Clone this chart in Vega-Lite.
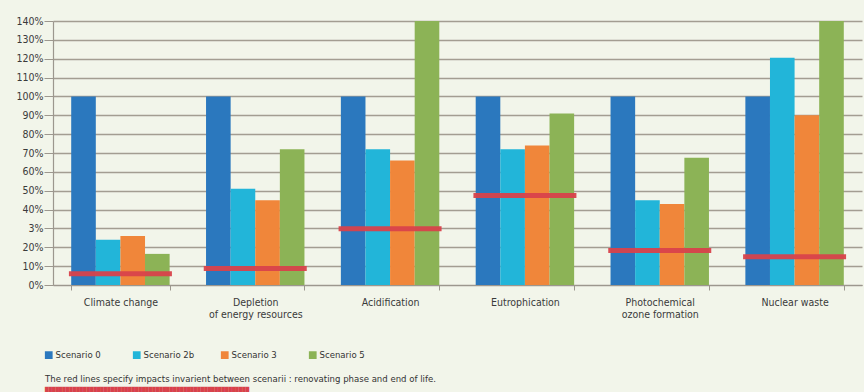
{
  "$schema": "https://vega.github.io/schema/vega-lite/v6.json",
  "autosize": {"type": "none"},
  "width": 809,
  "height": 264,
  "padding": {"left": 53, "top": 21, "right": 2, "bottom": 107},
  "background": "#f2f5ea",
  "datasets": {
    "impacts": [
      {"category": "Climate change", "scenario": "Scenario 0", "value": 1.0},
      {"category": "Climate change", "scenario": "Scenario 2b", "value": 0.24},
      {"category": "Climate change", "scenario": "Scenario 3", "value": 0.26},
      {"category": "Climate change", "scenario": "Scenario 5", "value": 0.165},
      {"category": "Depletion of energy resources", "scenario": "Scenario 0", "value": 1.0},
      {"category": "Depletion of energy resources", "scenario": "Scenario 2b", "value": 0.51},
      {"category": "Depletion of energy resources", "scenario": "Scenario 3", "value": 0.45},
      {"category": "Depletion of energy resources", "scenario": "Scenario 5", "value": 0.72},
      {"category": "Acidification", "scenario": "Scenario 0", "value": 1.0},
      {"category": "Acidification", "scenario": "Scenario 2b", "value": 0.72},
      {"category": "Acidification", "scenario": "Scenario 3", "value": 0.66},
      {"category": "Acidification", "scenario": "Scenario 5", "value": 1.4},
      {"category": "Eutrophication", "scenario": "Scenario 0", "value": 1.0},
      {"category": "Eutrophication", "scenario": "Scenario 2b", "value": 0.72},
      {"category": "Eutrophication", "scenario": "Scenario 3", "value": 0.74},
      {"category": "Eutrophication", "scenario": "Scenario 5", "value": 0.91},
      {"category": "Photochemical ozone formation", "scenario": "Scenario 0", "value": 1.0},
      {"category": "Photochemical ozone formation", "scenario": "Scenario 2b", "value": 0.45},
      {"category": "Photochemical ozone formation", "scenario": "Scenario 3", "value": 0.43},
      {"category": "Photochemical ozone formation", "scenario": "Scenario 5", "value": 0.675},
      {"category": "Nuclear waste", "scenario": "Scenario 0", "value": 1.0},
      {"category": "Nuclear waste", "scenario": "Scenario 2b", "value": 1.205},
      {"category": "Nuclear waste", "scenario": "Scenario 3", "value": 0.9},
      {"category": "Nuclear waste", "scenario": "Scenario 5", "value": 1.4}
    ],
    "invariant": [
      {"category": "Climate change", "value": 0.06},
      {"category": "Depletion of energy resources", "value": 0.087},
      {"category": "Acidification", "value": 0.298},
      {"category": "Eutrophication", "value": 0.475},
      {"category": "Photochemical ozone formation", "value": 0.183},
      {"category": "Nuclear waste", "value": 0.15}
    ]
  },
  "title": {
    "text": "The red lines specify impacts invarient between scenarii : renovating phase and end of life.",
    "subtitle": "███████████████████████████████████████████████████████████",
    "orient": "bottom",
    "anchor": "start",
    "frame": "group",
    "offset": 14,
    "dx": -8,
    "font": "DejaVu Sans Condensed",
    "fontSize": 9.5,
    "fontWeight": "normal",
    "color": "#333333",
    "subtitleFont": "DejaVu Sans",
    "subtitleFontSize": 4.5,
    "subtitleColor": "#d8424b",
    "subtitlePadding": 3
  },
  "config": {
    "view": {"stroke": null},
    "font": "DejaVu Sans Condensed",
    "axis": {
      "labelFont": "DejaVu Sans Condensed",
      "labelColor": "#3a3a3a",
      "labelFontSize": 10.5,
      "domainColor": "#9c978e",
      "tickColor": "#9c978e",
      "gridColor": "#a39d92",
      "gridWidth": 1.4
    }
  },
  "encoding": {
    "x": {
      "field": "category",
      "type": "nominal",
      "sort": null,
      "scale": {"paddingInner": 0.27, "paddingOuter": 0.135},
      "axis": {
        "title": null,
        "labelAngle": 0,
        "tickBand": "extent",
        "tickSize": 5,
        "labelPadding": 7,
        "domainWidth": 1.2,
        "labelExpr": "datum.value == 'Depletion of energy resources' ? ['Depletion', 'of energy resources'] : datum.value == 'Photochemical ozone formation' ? ['Photochemical', 'ozone formation'] : datum.value"
      }
    },
    "y": {
      "field": "value",
      "type": "quantitative",
      "scale": {"domain": [0, 1.4], "nice": false},
      "axis": {
        "title": null,
        "values": [0, 0.1, 0.2, 0.3, 0.4, 0.5, 0.6, 0.7, 0.8, 0.9, 1.0, 1.1, 1.2, 1.3, 1.4],
        "labelExpr": "abs(datum.value - 0.3) < 0.001 ? '3%' : format(datum.value, '.0%')",
        "labelOverlap": false,
        "tickSize": 9,
        "labelPadding": 1,
        "domainWidth": 1.2
      }
    }
  },
  "layer": [
    {
      "data": {"name": "impacts"},
      "mark": {"type": "bar"},
      "encoding": {
        "xOffset": {"field": "scenario", "type": "nominal", "sort": null},
        "color": {
          "field": "scenario",
          "type": "nominal",
          "sort": null,
          "scale": {
            "domain": ["Scenario 0", "Scenario 2b", "Scenario 3", "Scenario 5"],
            "range": ["#2b78be", "#22b5d9", "#f0863a", "#8cb356"]
          },
          "legend": {
            "title": null,
            "orient": "none",
            "legendX": -9,
            "legendY": 329,
            "direction": "horizontal",
            "columns": 4,
            "gridAlign": "all",
            "columnPadding": 25,
            "symbolType": "square",
            "symbolSize": 60,
            "symbolStrokeWidth": 0,
            "labelOffset": 2,
            "labelFont": "DejaVu Sans Condensed",
            "labelFontSize": 9.5,
            "labelColor": "#333333"
          }
        }
      }
    },
    {
      "data": {"name": "invariant"},
      "mark": {"type": "tick", "thickness": 5, "size": 103, "color": "#d8424b", "opacity": 0.95}
    }
  ]
}
